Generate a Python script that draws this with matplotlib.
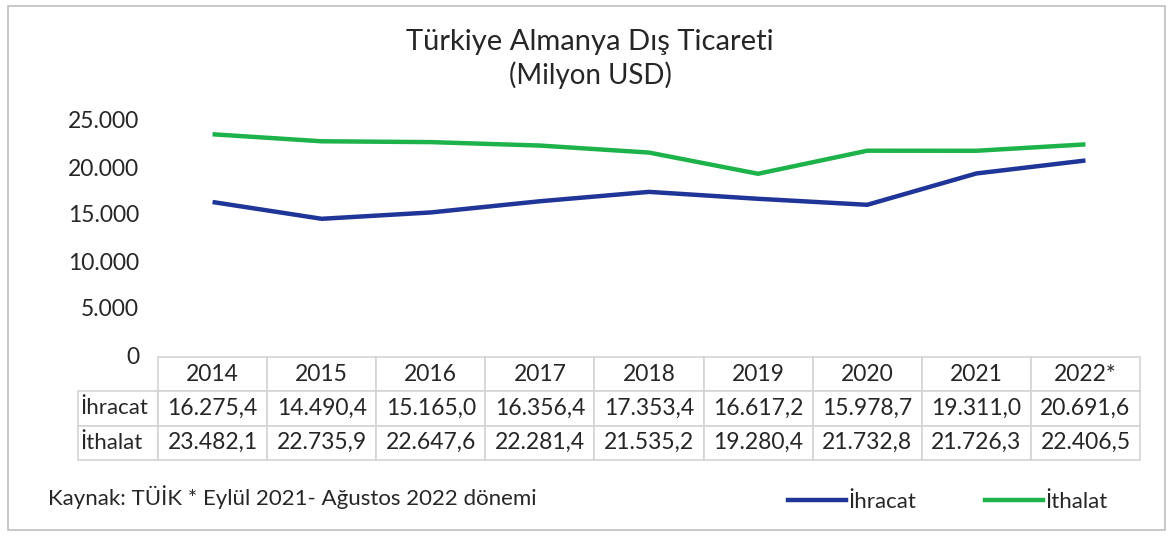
import matplotlib.pyplot as plt
from matplotlib.patches import Rectangle
from matplotlib.lines import Line2D

plt.rcParams['font.family'] = ['Lato', 'DejaVu Sans']

years = ["2014", "2015", "2016", "2017", "2018", "2019", "2020", "2021", "2022*"]
ihracat = [16275.4, 14490.4, 15165.0, 16356.4, 17353.4, 16617.2, 15978.7, 19311.0, 20691.6]
ithalat = [23482.1, 22735.9, 22647.6, 22281.4, 21535.2, 19280.4, 21732.8, 21726.3, 22406.5]
series_names = ["İhracat", "İthalat"]
yticks = [0, 5000, 10000, 15000, 20000, 25000]

BLUE = "#1f3597"
GREEN = "#1db34a"
TXT = "#262626"


def tr_fmt(v):
    # turkish number format: 16.275,4
    s = f"{v:,.1f}"
    return s.replace(",", "X").replace(".", ",").replace("X", ".")


def tick_fmt(v):
    return "0" if v == 0 else f"{v:,.0f}".replace(",", ".")


fig = plt.figure(figsize=(11.73, 5.36), dpi=100)
W, H = 1173, 536

# outer frame
fig.patches.append(Rectangle((8 / W, 6 / H), 1157 / W, 524 / H, transform=fig.transFigure,
                             fill=False, ec="#bfbfbf", lw=1.2))

ax = fig.add_axes([158 / W, 181 / H, 982 / W, 235 / H])
x = list(range(len(years)))
ax.plot(x, ihracat, color=BLUE, lw=3.2, solid_capstyle="butt")
ax.plot(x, ithalat, color=GREEN, lw=3.2, solid_capstyle="butt")
ax.set_xlim(-0.5, len(years) - 0.5)
ax.set_ylim(0, 25000)
ax.set_yticks(yticks)
ax.set_yticklabels([tick_fmt(v) for v in yticks], fontsize=16.5, color=TXT)
ax.tick_params(axis="y", length=0, pad=13.5)
ax.set_xticks([])
for s in ax.spines.values():
    s.set_visible(False)

# data table below the plot
cells = [[""] + years]
cells.append([series_names[0]] + [tr_fmt(v) for v in ihracat])
cells.append([series_names[1]] + [tr_fmt(v) for v in ithalat])
lab_w = 80 / 1062
col_w = (1 - lab_w) / len(years)
tbl = ax.table(cellText=cells, colWidths=[lab_w] + [col_w] * len(years),
               cellLoc="center", bbox=[-80 / 982, -105 / 235, 1062 / 982, 103 / 235])
tbl.auto_set_font_size(False)
for (r, c), cell in tbl.get_celld().items():
    cell.set_edgecolor("#d4d4d4")
    cell.set_linewidth(1.2)
    cell.get_text().set_fontsize(16.5)
    cell.get_text().set_color(TXT)
    if c == 0:
        cell.get_text().set_ha("left")
        cell.get_text().set_fontsize(16)
        cell.PAD = 0.03
    if r == 0 and c == 0:
        cell.visible_edges = ""

fig.text(590 / W, 1 - 42 / H, "Türkiye Almanya Dış Ticareti", ha="center", va="center",
         fontsize=21, color=TXT)
fig.text(590 / W, 1 - 75 / H, "(Milyon USD)", ha="center", va="center", fontsize=20, color=TXT)

fig.text(48 / W, 1 - 497 / H, "Kaynak: TÜİK * Eylül 2021- Ağustos 2022 dönemi", ha="left",
         va="center", fontsize=16, color=TXT)

handles = [Line2D([], [], color=BLUE, lw=3.2), Line2D([], [], color=GREEN, lw=3.2)]
fig.legend(handles, series_names, loc="center", bbox_to_anchor=(948 / W, 1 - 502 / H), ncol=2,
           frameon=False, fontsize=16, handlelength=2.6, handletextpad=0.1, columnspacing=3.1,
           labelcolor=TXT)

fig.savefig("out.png", dpi=100)
